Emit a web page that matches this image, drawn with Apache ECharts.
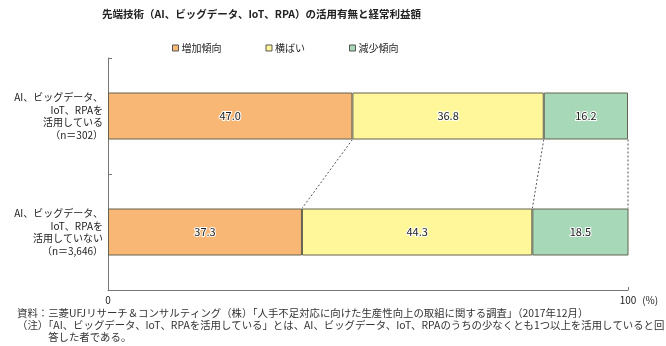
<!DOCTYPE html>
<html><head><meta charset="utf-8">
<script src="https://cdn.jsdelivr.net/npm/echarts@6/dist/echarts.min.js"></script>
<style>html,body{margin:0;padding:0;background:#fff}#c{width:666px;height:346px}</style>
</head><body><div id="c"></div>
<script>
const categories = ['AI、ビッグデータ、\nIoT、RPAを\n活用している\n（n＝302）', 'AI、ビッグデータ、\nIoT、RPAを\n活用していない\n（n＝3,646）'];
const seriesNames = ['増加傾向', '横ばい', '減少傾向'];
const increase = [47.0, 37.3];
const flat = [36.8, 44.3];
const decrease = [16.2, 18.5];
const xTicks = [0, 100];
const titleText = '先端技術（AI、ビッグデータ、IoT、RPA）の活用有無と経常利益額';
const notes = [
  '資料：三菱UFJリサーチ＆コンサルティング（株）「人手不足対応に向けた生産性向上の取組に関する調査」（2017年12月）',
  '（注）「AI、ビッグデータ、IoT、RPAを活用している」とは、AI、ビッグデータ、IoT、RPAのうちの少なくとも1つ以上を活用していると回',
  '　　　答した者である。'
];

const FONT = '"Noto Sans CJK JP", "Noto Sans", sans-serif';
const colors = ['#F9B775', '#FFF79A', '#A7D8B8'];
const BAR_W = 47;
const values = [increase, flat, decrease];

// cumulative boundaries for connectors
const connectors = [];
{
  let c0 = 0, c1 = 0;
  for (let i = 0; i < values.length; i++) {
    c0 += values[i][0]; c1 += values[i][1];
    connectors.push([Math.min(c0, 100), Math.min(c1, 100)]);
  }
}

const chart = echarts.init(document.getElementById('c'), null, {renderer: 'canvas'});
const barSeries = values.map((v, i) => ({
  name: seriesNames[i],
  type: 'bar',
  stack: 'total',
  barWidth: BAR_W,
  data: v,
  itemStyle: {color: colors[i], borderColor: '#63634f', borderWidth: 1},
  label: {
    show: true, position: 'inside', fontFamily: FONT, fontSize: 11, color: '#222',
    textBorderColor: '#fff', textBorderWidth: 2,
    formatter: p => p.value.toFixed(1)
  },
  emphasis: {disabled: true}
}));

chart.setOption({
  animation: false,
  textStyle: {fontFamily: FONT},
  title: {text: titleText, left: 97, top: 4, textStyle: {fontFamily: FONT, fontSize: 10.5, fontWeight: 'bold', color: '#222'}},
  legend: {
    data: seriesNames, left: 167, top: 38, itemWidth: 6, itemHeight: 6, itemGap: 44,
    icon: 'rect',
    textStyle: {fontFamily: FONT, fontSize: 10, color: '#222', padding: [0, 0, 0, -2]},
    itemStyle: {borderColor: '#555', borderWidth: 1}
  },
  grid: {left: 108, right: 38, top: 58, bottom: 56, containLabel: false},
  xAxis: {
    type: 'value', min: xTicks[0], max: xTicks[1], interval: 100,
    name: '(%)', nameLocation: 'end', nameGap: 2,
    nameTextStyle: {fontFamily: FONT, fontSize: 10, color: '#222', verticalAlign: 'top', padding: [5, 0, 0, 0]},
    axisLine: {show: true, lineStyle: {color: '#777', width: 1}},
    axisTick: {show: true, inside: true, length: 3, lineStyle: {color: '#777'}},
    axisLabel: {fontFamily: FONT, fontSize: 10, color: '#222', margin: 5},
    splitLine: {show: false}
  },
  yAxis: {
    type: 'category', data: categories, inverse: true,
    axisLine: {show: true, lineStyle: {color: '#777', width: 1}},
    axisTick: {show: true, inside: true, length: 4, lineStyle: {color: '#777'}},
    axisLabel: {fontFamily: FONT, fontSize: 10, color: '#222', lineHeight: 12.5, align: 'right', margin: 5}
  },
  series: [
    ...barSeries,
    {
      type: 'custom', silent: true, z: 1,
      data: connectors,
      renderItem: (params, api) => {
        const p1 = api.coord([api.value(0), 0]);
        const p2 = api.coord([api.value(1), 1]);
        return {
          type: 'line',
          shape: {x1: p1[0], y1: p1[1] + BAR_W / 2, x2: p2[0], y2: p2[1] - BAR_W / 2},
          style: {stroke: '#555', lineWidth: 1, lineDash: [2, 2]}
        };
      }
    }
  ],
  graphic: notes.map((t, i) => ({
    type: 'text', left: 17, top: 308 + i * 12,
    style: {text: t, fontFamily: FONT, fontSize: 10.4, fill: '#333'}
  }))
});
</script></body></html>
